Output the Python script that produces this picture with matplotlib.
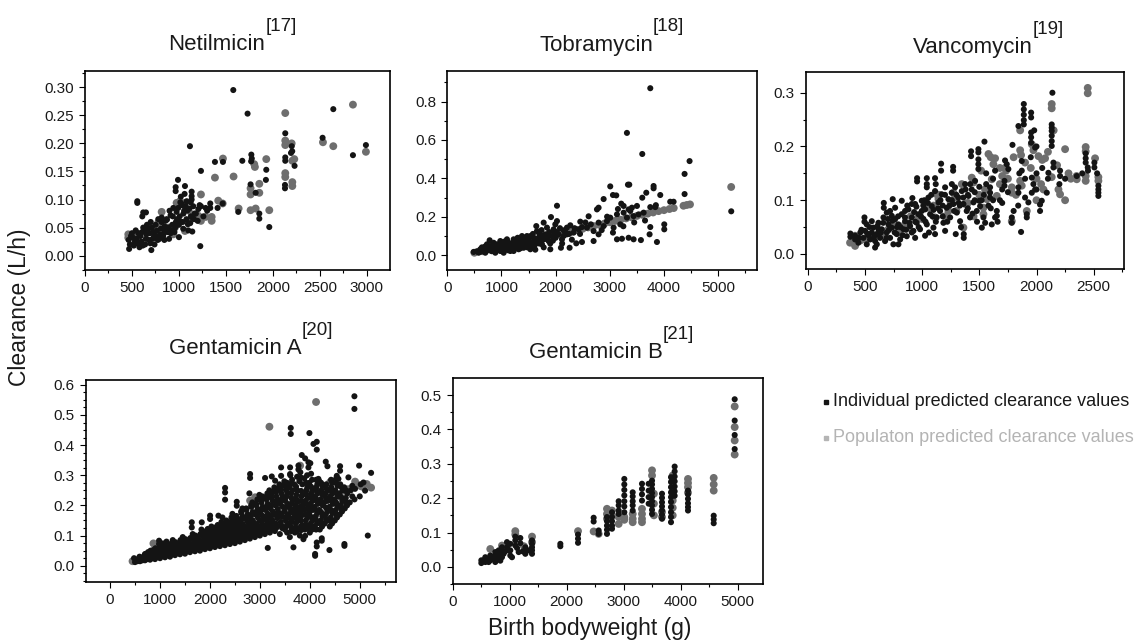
import numpy as np
import matplotlib
matplotlib.use('Agg')
import matplotlib.pyplot as plt
from matplotlib.ticker import MultipleLocator, FormatStrFormatter
from matplotlib.lines import Line2D

plt.rcParams['font.family'] = ['Liberation Sans', 'DejaVu Sans']

# (birth bodyweight g, clearance L/h)
netil_ind = [
    (1578, 0.295), (1730, 0.253), (2642, 0.261), (1117, 0.195), (2131, 0.218), (2528, 0.210),
    (2989, 0.197), (2851, 0.179), (1770, 0.180), (1775, 0.173), (1768, 0.168), (1383, 0.167),
    (1468, 0.167), (1674, 0.169), (1234, 0.151), (1929, 0.153), (1925, 0.135), (2131, 0.175),
    (2131, 0.169), (2200, 0.195), (2205, 0.186), (2192, 0.183), (2230, 0.160), (2128, 0.126),
    (2128, 0.120), (1762, 0.127), (1816, 0.112), (1855, 0.075), (1855, 0.066), (1961, 0.051),
    (1631, 0.078), (1227, 0.017), (706, 0.010), (557, 0.097), (557, 0.094), (990, 0.135),
    (965, 0.122), (965, 0.115), (1064, 0.124), (1135, 0.114), (1135, 0.106), (1135, 0.100),
    (1234, 0.088), (1284, 0.085), (1333, 0.093), (1333, 0.085), (1411, 0.085), (1465, 0.093),
    (620, 0.077), (649, 0.077), (610, 0.070),
    (470, 0.012), (478, 0.020), (465, 0.028), (490, 0.035), (520, 0.018), (530, 0.025),
    (512, 0.032), (560, 0.022), (552, 0.030), (568, 0.040), (600, 0.025), (592, 0.035),
    (608, 0.042), (615, 0.018), (640, 0.020), (648, 0.030), (635, 0.045), (655, 0.038),
    (680, 0.028), (688, 0.040), (672, 0.048), (695, 0.022), (720, 0.030), (728, 0.042),
    (712, 0.050), (735, 0.035), (760, 0.035), (768, 0.045), (752, 0.055), (775, 0.028),
    (800, 0.038), (808, 0.048), (792, 0.030), (815, 0.060), (840, 0.040), (848, 0.052),
    (832, 0.035), (855, 0.062), (845, 0.028), (880, 0.042), (888, 0.050), (872, 0.064),
    (895, 0.030), (920, 0.045), (928, 0.055), (912, 0.040), (935, 0.070), (960, 0.050),
    (968, 0.060), (952, 0.042), (975, 0.078), (1000, 0.055), (1008, 0.070), (992, 0.085),
    (1015, 0.095), (1000, 0.033), (1020, 0.060), (1040, 0.060), (1048, 0.075), (1032, 0.090),
    (1055, 0.080), (1045, 0.048), (1080, 0.065), (1088, 0.080), (1072, 0.088), (1095, 0.056),
    (1120, 0.058), (1128, 0.070), (1112, 0.084), (1125, 0.095), (1142, 0.043), (1160, 0.065),
    (1168, 0.075), (816, 0.068), (869, 0.065), (911, 0.072), (1064, 0.081), (1028, 0.092),
    (1082, 0.097), (1152, 0.088), (1142, 0.068), (1206, 0.083), (1199, 0.062),
    (500, 0.040), (540, 0.045), (580, 0.015), (620, 0.050), (660, 0.055), (700, 0.060),
    (740, 0.020), (780, 0.065), (860, 0.045), (900, 0.080), (940, 0.085), (980, 0.065),
    (1020, 0.105), (1060, 0.110), (1100, 0.045), (1180, 0.075), (1220, 0.090), (1260, 0.070),
    (1300, 0.080),
]
netil_pop = [
    (2851, 0.269), (2131, 0.254), (2131, 0.205), (2131, 0.197), (2199, 0.200), (2206, 0.169),
    (2227, 0.172), (2532, 0.202), (2642, 0.195), (2989, 0.185), (1929, 0.172), (1808, 0.158),
    (1801, 0.163), (1468, 0.173), (1383, 0.139), (1581, 0.141), (2131, 0.147), (2131, 0.140),
    (2206, 0.131), (2206, 0.124), (1762, 0.120), (1762, 0.109), (1855, 0.128), (1855, 0.112),
    (1762, 0.081), (1816, 0.084), (1961, 0.081), (1635, 0.084), (1234, 0.109), (1234, 0.062),
    (1284, 0.069), (1348, 0.069), (1348, 0.062), (1418, 0.098), (1465, 0.093), (816, 0.078),
    (461, 0.038), (461, 0.032), (975, 0.094), (1011, 0.097), (1064, 0.094), (816, 0.053),
    (886, 0.050), (709, 0.050), (638, 0.044), (567, 0.038), (940, 0.038), (957, 0.050),
    (1099, 0.062), (1135, 0.074), (1206, 0.071), (514, 0.035), (1064, 0.044), (780, 0.059),
]

tobra_ind = [
    (3747, 0.870), (3316, 0.637), (3599, 0.527), (4472, 0.490), (4380, 0.423), (4380, 0.318),
    (5241, 0.228), (3008, 0.358), (3335, 0.367), (3359, 0.367), (3808, 0.360), (3808, 0.348),
    (2025, 0.257), (2886, 0.292), (3058, 0.313), (3119, 0.311), (3599, 0.299), (3673, 0.325),
    (3931, 0.313), (4115, 0.278), (4177, 0.278), (3747, 0.250), (3839, 0.250), (3211, 0.268),
    (3255, 0.256), (2793, 0.247), (2763, 0.238), (3501, 0.256), (3408, 0.247), (3347, 0.238),
    (2609, 0.202), (1914, 0.198), (1643, 0.151), (2025, 0.177), (2271, 0.155), (2455, 0.174),
    (2486, 0.146), (1779, 0.169), (3747, 0.146), (4005, 0.160), (4005, 0.134), (3870, 0.068),
    (3734, 0.108), (3574, 0.078), (3439, 0.082), (3347, 0.090), (3224, 0.085), (3132, 0.082),
    (3058, 0.117), (2701, 0.073), (2486, 0.068), (2381, 0.061), (2258, 0.038), (2098, 0.038),
    (1902, 0.030), (1625, 0.028), (2793, 0.169), (2886, 0.151), (2947, 0.177), (3070, 0.143),
    (3193, 0.160), (3316, 0.195), (3439, 0.203), (3008, 0.195), (3132, 0.212), (3255, 0.221),
    (3378, 0.230), (3531, 0.212), (3624, 0.221), (2578, 0.143), (2701, 0.125), (2793, 0.108),
    (2332, 0.117), (2209, 0.108), (2424, 0.134),
    (487, 0.016), (579, 0.012), (672, 0.024), (764, 0.038), (782, 0.077), (856, 0.030),
    (918, 0.056), (979, 0.021), (1053, 0.070), (1102, 0.038), (1194, 0.047), (1225, 0.021),
    (1299, 0.090), (1348, 0.056), (1440, 0.082), (1471, 0.047), (1533, 0.099), (1563, 0.064),
    (1656, 0.125), (1686, 0.090), (1748, 0.056), (1809, 0.108), (1840, 0.143), (1871, 0.073),
    (1932, 0.099), (1963, 0.134), (1994, 0.160), (2055, 0.108), (2117, 0.082), (2148, 0.129),
    (2209, 0.143), (610, 0.030), (702, 0.012), (795, 0.047), (887, 0.012), (948, 0.038),
    (1010, 0.056), (1041, 0.012), (1133, 0.064), (1164, 0.021), (1256, 0.056), (1317, 0.030),
    (1379, 0.073), (1410, 0.038), (1502, 0.073), (1533, 0.030), (1594, 0.090), (1625, 0.056),
    (1717, 0.082), (1779, 0.082), (1471, 0.099), (1379, 0.099), (1225, 0.082), (1102, 0.082),
    (979, 0.073), (856, 0.064), (733, 0.056), (640, 0.040), (700, 0.045), (820, 0.020),
    (900, 0.045), (1060, 0.030), (1150, 0.045), (1280, 0.070), (1350, 0.035), (1420, 0.060),
    (1600, 0.040), (1700, 0.110), (1900, 0.060), (2000, 0.090), (2150, 0.100), (2300, 0.080),
    (550, 0.020), (620, 0.018), (680, 0.035), (750, 0.025), (830, 0.040), (880, 0.025),
    (960, 0.050), (1000, 0.035), (1080, 0.050), (1120, 0.025), (1180, 0.060), (1240, 0.040),
    (1300, 0.050), (1330, 0.080), (1380, 0.045), (1450, 0.065), (1500, 0.085), (1560, 0.050),
    (1650, 0.070), (1700, 0.060), (1760, 0.100), (1820, 0.085), (1880, 0.120), (1950, 0.075),
    (2020, 0.120), (2080, 0.140), (2180, 0.120), (2250, 0.110), (2350, 0.140), (2450, 0.110),
    (2550, 0.170), (2650, 0.160), (2850, 0.130), (2950, 0.200), (3150, 0.240), (3250, 0.150),
    (3450, 0.170), (3650, 0.180), (3850, 0.260),
    (1050, 0.045), (1200, 0.035), (1270, 0.065), (1420, 0.090), (1480, 0.040), (1580, 0.110),
    (1620, 0.080), (1740, 0.130), (1780, 0.040), (1860, 0.095), (1980, 0.115), (2120, 0.060),
]
tobra_pop = [
    (500, 0.012), (650, 0.020), (800, 0.028), (950, 0.036), (1100, 0.045), (1250, 0.054),
    (1400, 0.062), (1550, 0.071), (1700, 0.080), (1850, 0.090), (2000, 0.101), (2100, 0.108),
    (2200, 0.115), (2300, 0.123), (2400, 0.130), (2500, 0.137), (2600, 0.144), (2700, 0.151),
    (2800, 0.158), (2900, 0.164), (3000, 0.171), (3100, 0.178), (3200, 0.184), (3300, 0.191),
    (3400, 0.197), (3500, 0.204), (3600, 0.210), (3700, 0.216), (3800, 0.222), (3900, 0.229),
    (4000, 0.234), (4100, 0.240), (4180, 0.245), (4360, 0.257), (4420, 0.261), (4480, 0.264),
    (5240, 0.355),
]

vanco_ind = [
    (2139, 0.300), (1889, 0.279), (1889, 0.269), (1889, 0.259), (1889, 0.249), (1889, 0.241),
    (1953, 0.263), (1953, 0.254), (1842, 0.238), (2133, 0.241), (2133, 0.235), (2133, 0.229),
    (2133, 0.220), (2133, 0.210), (2133, 0.201), (1953, 0.226), (1953, 0.217), (1953, 0.207),
    (1988, 0.198), (1545, 0.209), (1492, 0.195), (1492, 0.189), (1428, 0.191), (1428, 0.182),
    (1790, 0.203), (1166, 0.168), (1166, 0.155), (1271, 0.162), (1271, 0.155), (1041, 0.141),
    (1041, 0.130), (1041, 0.124), (956, 0.141), (956, 0.135), (1113, 0.141), (1119, 0.130),
    (665, 0.095), (665, 0.086), (496, 0.068), (496, 0.060), (373, 0.038), (373, 0.032),
    (414, 0.034), (414, 0.027), (589, 0.012), (743, 0.102), (915, 0.104), (1294, 0.037),
    (1364, 0.037), (1364, 0.030), (1522, 0.049), (1865, 0.041), (1609, 0.055), (1638, 0.068),
    (1784, 0.068), (1784, 0.058), (1915, 0.074), (1915, 0.068), (2031, 0.092), (2031, 0.080),
    (2046, 0.099), (2090, 0.114), (1842, 0.124), (1842, 0.114), (1900, 0.105), (1929, 0.096),
    (1959, 0.142), (1973, 0.130), (1988, 0.120), (1959, 0.114), (2206, 0.155), (2206, 0.145),
    (2352, 0.145), (2430, 0.187), (2430, 0.178), (2430, 0.170), (2448, 0.161), (2506, 0.170),
    (2506, 0.161), (2541, 0.127), (2541, 0.120), (2541, 0.114), (2541, 0.108), (2148, 0.170),
    (2148, 0.161), (2104, 0.151), (1720, 0.136), (1720, 0.127), (1725, 0.174), (1740, 0.167),
    (1754, 0.158), (1871, 0.173), (1871, 0.155), (1492, 0.176), (1492, 0.167), (1492, 0.158),
    (1638, 0.155), (1594, 0.124), (1594, 0.114), (1594, 0.105), (1498, 0.099), (1507, 0.089),
    (1653, 0.080), (1653, 0.071), (1536, 0.068), (1551, 0.058),
    (443, 0.021), (487, 0.030), (516, 0.018), (545, 0.027), (560, 0.040), (589, 0.024),
    (604, 0.037), (633, 0.030), (647, 0.046), (676, 0.024), (691, 0.040), (706, 0.055),
    (720, 0.030), (735, 0.049), (749, 0.018), (764, 0.065), (778, 0.037), (793, 0.055),
    (808, 0.027), (822, 0.074), (837, 0.046), (851, 0.061), (866, 0.033), (880, 0.083),
    (895, 0.052), (910, 0.068), (924, 0.043), (939, 0.093), (953, 0.058), (968, 0.074),
    (982, 0.046), (997, 0.099), (1012, 0.065), (1026, 0.083), (1041, 0.055), (1055, 0.105),
    (1070, 0.074), (1084, 0.089), (1099, 0.049), (1113, 0.117), (1128, 0.068), (1143, 0.096),
    (1157, 0.080), (1172, 0.111), (1186, 0.058), (1201, 0.124), (1215, 0.086), (1230, 0.102),
    (1245, 0.068), (1259, 0.114), (1274, 0.093), (1288, 0.124), (1303, 0.077), (1317, 0.105),
    (1332, 0.061), (1347, 0.117), (1361, 0.093), (1376, 0.130), (1390, 0.080), (1405, 0.108),
    (1419, 0.068), (1434, 0.120), (1449, 0.096), (1463, 0.136), (1478, 0.080),
    (502, 0.043), (574, 0.049), (618, 0.058), (662, 0.068), (516, 0.055), (560, 0.061),
    (720, 0.080), (764, 0.086), (691, 0.077), (910, 0.093), (822, 0.099), (997, 0.080),
    (851, 0.080), (735, 0.071), (604, 0.018), (793, 0.018), (939, 0.030), (1026, 0.034),
    (1113, 0.037), (1201, 0.043), (460, 0.040), (530, 0.035), (620, 0.045), (700, 0.065),
    (780, 0.050), (860, 0.045), (940, 0.060), (1020, 0.100), (1090, 0.070), (1180, 0.090),
    (1260, 0.100), (1330, 0.090), (1400, 0.110), (1460, 0.100), (1540, 0.110), (1580, 0.090),
    (1680, 0.100), (1700, 0.120), (1620, 0.140), (1560, 0.150), (1840, 0.090), (2000, 0.150),
    (450, 0.030), (470, 0.045), (520, 0.038), (540, 0.050), (580, 0.032), (610, 0.052),
    (640, 0.040), (660, 0.058), (690, 0.030), (710, 0.045), (740, 0.062), (760, 0.040),
    (790, 0.070), (810, 0.050), (830, 0.035), (850, 0.068), (870, 0.090), (890, 0.058),
    (910, 0.040), (930, 0.078), (950, 0.088), (970, 0.050), (990, 0.070), (1010, 0.090),
    (1030, 0.060), (1050, 0.095), (1060, 0.040), (1080, 0.110), (1100, 0.082), (1120, 0.060),
    (1140, 0.085), (1160, 0.100), (1180, 0.070), (1200, 0.110), (1220, 0.060), (1240, 0.090),
    (1260, 0.130), (1280, 0.080), (1300, 0.110), (1320, 0.095), (1340, 0.050), (1360, 0.105),
    (1380, 0.120), (1400, 0.085), (1420, 0.130), (1440, 0.075), (1460, 0.115), (1480, 0.060),
    (1500, 0.125), (1520, 0.100), (1560, 0.130), (1600, 0.085), (1620, 0.100), (1660, 0.060),
    (1700, 0.095), (1750, 0.115), (1800, 0.080), (1850, 0.150), (1900, 0.140), (2000, 0.120),
    (2050, 0.160), (2100, 0.140), (2200, 0.130), (2250, 0.140), (2400, 0.150), (2450, 0.155),
    (2530, 0.150), (1950, 0.180), (2000, 0.200), (1980, 0.230),
]
vanco_pop = [
    (2448, 0.309), (2448, 0.299), (2133, 0.279), (2133, 0.271), (1857, 0.230), (1959, 0.204),
    (1973, 0.193), (2250, 0.195), (2017, 0.182), (2075, 0.178), (1857, 0.193), (1865, 0.184),
    (1725, 0.160), (1734, 0.155), (1580, 0.186), (1638, 0.178), (1623, 0.167), (1516, 0.155),
    (1609, 0.139), (2430, 0.199), (2430, 0.191), (2352, 0.139), (2430, 0.145), (2430, 0.136),
    (2541, 0.143), (2541, 0.136), (2512, 0.178), (2192, 0.120), (2206, 0.111), (2040, 0.130),
    (2061, 0.120), (1857, 0.136), (1871, 0.127), (2133, 0.143), (1784, 0.124), (1784, 0.114),
    (1915, 0.080), (1784, 0.061), (1653, 0.108), (1536, 0.086), (1536, 0.074), (1434, 0.142),
    (1449, 0.133), (1361, 0.049), (1274, 0.114), (1288, 0.105), (1128, 0.111), (1143, 0.102),
    (1055, 0.086), (968, 0.068), (880, 0.049), (793, 0.040), (647, 0.034), (502, 0.027),
    (370, 0.021), (414, 0.015), (414, 0.034), (1230, 0.080), (1376, 0.093), (1113, 0.068),
    (1347, 0.130), (1565, 0.102), (2150, 0.230), (2000, 0.140), (2280, 0.150), (1680, 0.130),
    (600, 0.035), (700, 0.045), (750, 0.060), (900, 0.070), (1000, 0.065), (1100, 0.090),
    (1200, 0.070), (1250, 0.095), (1400, 0.095), (1450, 0.070), (1500, 0.110), (1550, 0.120),
    (1700, 0.145), (1750, 0.140), (1800, 0.180), (1900, 0.170), (1950, 0.160), (2050, 0.175),
    (2100, 0.190), (2180, 0.165), (2250, 0.100), (2350, 0.145), (1600, 0.180), (1680, 0.160),
    (1300, 0.080), (1150, 0.110), (850, 0.055), (550, 0.030), (460, 0.025), (1820, 0.110),
    (2000, 0.100), (2300, 0.140),
]

gentA_ind = [
    (4893, 0.562), (4893, 0.520), (3618, 0.457), (3618, 0.437), (3992, 0.440), (4073, 0.404),
    (4139, 0.411), (4139, 0.385), (4987, 0.332), (5227, 0.308), (5161, 0.100), (4693, 0.072),
    (4693, 0.066), (4393, 0.052), (4106, 0.039), (4106, 0.033), (3672, 0.061), (3158, 0.059),
    (3872, 0.088), (3906, 0.099), (4139, 0.077), (4139, 0.064), (4239, 0.091), (4239, 0.083),
    (5107, 0.249), (5074, 0.276), (4540, 0.298), (4573, 0.288), (4773, 0.293), (3839, 0.367),
    (3906, 0.356), (3972, 0.343), (3972, 0.326), (3772, 0.332), (3772, 0.319), (3605, 0.326),
    (3605, 0.304), (3425, 0.326), (3425, 0.298), (3104, 0.291), (3238, 0.296), (3305, 0.282),
    (2804, 0.304), (2804, 0.291), (2303, 0.258), (2303, 0.243), (2303, 0.219), (4319, 0.345),
    (4353, 0.330), (4606, 0.330), (4606, 0.315), (4172, 0.288), (4440, 0.282), (2537, 0.212),
    (2537, 0.199), (2003, 0.166), (2003, 0.155), (1636, 0.144), (1636, 0.127), (1836, 0.144),
    (2170, 0.166), (981, 0.083), (981, 0.072), (701, 0.039),
    (500, 0.012), (520, 0.018), (480, 0.025), (600, 0.015), (620, 0.022), (590, 0.030),
    (700, 0.018), (720, 0.026), (690, 0.035), (800, 0.020), (820, 0.030), (790, 0.040),
    (810, 0.050), (900, 0.022), (920, 0.034), (890, 0.045), (910, 0.058), (1000, 0.025),
    (1020, 0.038), (990, 0.050), (1010, 0.062), (1100, 0.028), (1120, 0.040), (1090, 0.054),
    (1110, 0.068), (1130, 0.080), (1200, 0.030), (1220, 0.045), (1190, 0.058), (1210, 0.072),
    (1300, 0.035), (1320, 0.048), (1290, 0.062), (1310, 0.078), (1400, 0.038), (1420, 0.052),
    (1390, 0.066), (1410, 0.085), (1500, 0.040), (1520, 0.056), (1490, 0.070), (1510, 0.088),
    (1530, 0.060), (1600, 0.045), (1620, 0.060), (1590, 0.075), (1610, 0.092), (1700, 0.048),
    (1720, 0.064), (1690, 0.080), (1710, 0.100), (1800, 0.050), (1820, 0.068), (1790, 0.085),
    (1810, 0.105), (1830, 0.120), (1900, 0.055), (1920, 0.072), (1890, 0.090), (1910, 0.110),
    (2000, 0.058), (2020, 0.076), (1990, 0.095), (2010, 0.115), (2030, 0.130), (2100, 0.062),
    (2120, 0.080), (2090, 0.100), (2110, 0.120), (2200, 0.065), (2220, 0.085), (2190, 0.105),
    (2210, 0.125), (2230, 0.145), (2300, 0.068), (2320, 0.090), (2290, 0.110), (2310, 0.130),
    (2330, 0.150), (2400, 0.072), (2420, 0.095), (2390, 0.115), (2410, 0.135), (2430, 0.160),
    (2500, 0.075), (2520, 0.100), (2490, 0.120), (2510, 0.140), (2530, 0.165), (2600, 0.080),
    (2620, 0.105), (2590, 0.125), (2610, 0.145), (2630, 0.175), (2700, 0.085), (2720, 0.110),
    (2690, 0.130), (2710, 0.155), (2730, 0.185), (2800, 0.090), (2820, 0.115), (2790, 0.135),
    (2810, 0.160), (2830, 0.195), (2790, 0.240), (2900, 0.095), (2920, 0.120), (2890, 0.140),
    (2910, 0.170), (2930, 0.200), (3000, 0.100), (3020, 0.125), (2990, 0.150), (3010, 0.175),
    (3030, 0.210), (2990, 0.235), (3100, 0.105), (3120, 0.130), (3090, 0.155), (3110, 0.185),
    (3130, 0.220), (3200, 0.110), (3220, 0.135), (3190, 0.160), (3210, 0.190), (3230, 0.225),
    (3190, 0.250), (3300, 0.115), (3320, 0.140), (3290, 0.170), (3310, 0.200), (3330, 0.230),
    (3290, 0.260), (3400, 0.105), (3420, 0.145), (3390, 0.175), (3410, 0.205), (3430, 0.240),
    (3390, 0.270), (3500, 0.120), (3520, 0.150), (3490, 0.180), (3510, 0.215), (3530, 0.250),
    (3490, 0.280), (3600, 0.095), (3620, 0.130), (3590, 0.160), (3610, 0.190), (3630, 0.225),
    (3590, 0.260), (3610, 0.300), (3700, 0.110), (3720, 0.140), (3690, 0.170), (3710, 0.200),
    (3730, 0.235), (3690, 0.270), (3800, 0.100), (3820, 0.130), (3790, 0.165), (3810, 0.195),
    (3830, 0.230), (3790, 0.280), (3810, 0.310), (3900, 0.120), (3920, 0.150), (3890, 0.185),
    (3910, 0.215), (3930, 0.250), (3890, 0.290), (4000, 0.110), (4020, 0.140), (3990, 0.175),
    (4010, 0.205), (4030, 0.240), (3990, 0.275), (4010, 0.340), (4100, 0.130), (4120, 0.165),
    (4090, 0.195), (4110, 0.230), (4130, 0.260), (4200, 0.120), (4220, 0.150), (4190, 0.185),
    (4210, 0.220), (4230, 0.250), (4190, 0.280), (4300, 0.140), (4320, 0.170), (4290, 0.210),
    (4310, 0.240), (4330, 0.270), (4400, 0.130), (4420, 0.160), (4390, 0.195), (4410, 0.230),
    (4430, 0.260), (4500, 0.150), (4520, 0.185), (4490, 0.220), (4510, 0.250), (4530, 0.290),
    (4600, 0.170), (4620, 0.200), (4590, 0.240), (4610, 0.270), (4700, 0.190), (4720, 0.225),
    (4690, 0.260), (4800, 0.210), (4820, 0.250), (5000, 0.230), (5020, 0.270),
    (550, 0.015), (560, 0.022), (650, 0.018), (660, 0.028), (740, 0.022), (755, 0.033),
    (760, 0.045), (845, 0.025), (855, 0.038), (860, 0.052), (945, 0.030), (955, 0.044),
    (960, 0.056), (1040, 0.032), (1050, 0.047), (1060, 0.060), (1055, 0.074), (1145, 0.035),
    (1150, 0.050), (1160, 0.065), (1240, 0.038), (1250, 0.053), (1260, 0.068), (1255, 0.085),
    (1345, 0.042), (1350, 0.057), (1360, 0.072), (1440, 0.045), (1450, 0.062), (1460, 0.078),
    (1455, 0.095), (1545, 0.050), (1550, 0.066), (1560, 0.082), (1640, 0.052), (1650, 0.070),
    (1660, 0.088), (1655, 0.105), (1745, 0.057), (1750, 0.074), (1760, 0.092), (1840, 0.060),
    (1850, 0.078), (1860, 0.098), (1855, 0.115), (1945, 0.064), (1950, 0.083), (1960, 0.102),
    (1955, 0.122), (2045, 0.068), (2050, 0.088), (2060, 0.108), (2055, 0.125), (2145, 0.072),
    (2150, 0.092), (2160, 0.112), (2155, 0.135), (2245, 0.075), (2250, 0.097), (2260, 0.118),
    (2255, 0.138), (2250, 0.160), (2345, 0.080), (2350, 0.102), (2360, 0.122), (2355, 0.145),
    (2445, 0.084), (2450, 0.106), (2460, 0.128), (2455, 0.150), (2450, 0.172), (2545, 0.088),
    (2550, 0.110), (2560, 0.132), (2555, 0.155), (2645, 0.092), (2650, 0.116), (2660, 0.138),
    (2655, 0.162), (2650, 0.190), (2745, 0.098), (2750, 0.122), (2760, 0.145), (2755, 0.170),
    (2845, 0.102), (2850, 0.128), (2860, 0.150), (2855, 0.178), (2850, 0.210), (2945, 0.108),
    (2950, 0.132), (2960, 0.160), (2955, 0.188), (2950, 0.220), (3045, 0.112), (3050, 0.138),
    (3060, 0.165), (3055, 0.195), (3050, 0.230), (3145, 0.118), (3150, 0.145), (3160, 0.172),
    (3155, 0.205), (3150, 0.240), (3245, 0.125), (3250, 0.150), (3260, 0.180), (3255, 0.215),
    (3250, 0.245), (3345, 0.130), (3350, 0.158), (3360, 0.188), (3355, 0.220), (3350, 0.255),
    (3445, 0.125), (3450, 0.162), (3460, 0.195), (3455, 0.230), (3450, 0.265), (3545, 0.110),
    (3550, 0.140), (3560, 0.170), (3555, 0.205), (3550, 0.240), (3545, 0.275), (3645, 0.125),
    (3650, 0.155), (3660, 0.185), (3655, 0.215), (3650, 0.250), (3645, 0.285), (3745, 0.115),
    (3750, 0.148), (3760, 0.180), (3755, 0.212), (3750, 0.250), (3745, 0.295), (3845, 0.135),
    (3850, 0.168), (3860, 0.200), (3855, 0.235), (3850, 0.270), (3945, 0.125), (3950, 0.160),
    (3960, 0.190), (3955, 0.225), (3950, 0.260), (3945, 0.300), (4045, 0.120), (4050, 0.150),
    (4060, 0.185), (4055, 0.215), (4050, 0.250), (4045, 0.285), (4145, 0.140), (4150, 0.175),
    (4160, 0.205), (4155, 0.240), (4150, 0.270), (4245, 0.130), (4250, 0.165), (4260, 0.200),
    (4255, 0.235), (4250, 0.265), (4345, 0.150), (4350, 0.180), (4360, 0.215), (4355, 0.250),
    (4445, 0.140), (4450, 0.175), (4460, 0.205), (4455, 0.240), (4450, 0.275), (4545, 0.160),
    (4550, 0.200), (4560, 0.230), (4555, 0.265), (4645, 0.180), (4650, 0.215), (4660, 0.250),
    (4745, 0.200), (4750, 0.240), (4895, 0.220), (4905, 0.255),
    (2025, 0.070), (2025, 0.100), (2025, 0.122), (2125, 0.075), (2125, 0.096), (2125, 0.128),
    (2225, 0.080), (2225, 0.112), (2225, 0.132), (2325, 0.085), (2325, 0.106), (2325, 0.140),
    (2425, 0.090), (2425, 0.120), (2425, 0.145), (2525, 0.094), (2525, 0.118), (2525, 0.150),
    (2625, 0.098), (2625, 0.132), (2625, 0.155), (2625, 0.180), (2725, 0.104), (2725, 0.128),
    (2725, 0.162), (2725, 0.190), (2825, 0.108), (2825, 0.142), (2825, 0.168), (2825, 0.200),
    (2925, 0.114), (2925, 0.138), (2925, 0.178), (2925, 0.205), (3025, 0.118), (3025, 0.148),
    (3025, 0.185), (3025, 0.218), (3125, 0.124), (3125, 0.158), (3125, 0.195), (3125, 0.228),
    (3225, 0.130), (3225, 0.165), (3225, 0.200), (3225, 0.235), (3325, 0.125), (3325, 0.172),
    (3325, 0.210), (3325, 0.245), (3425, 0.135), (3425, 0.168), (3425, 0.218), (3425, 0.252),
    (3525, 0.130), (3525, 0.160), (3525, 0.195), (3525, 0.228), (3525, 0.262), (3625, 0.115),
    (3625, 0.145), (3625, 0.178), (3625, 0.205), (3625, 0.240), (3625, 0.272), (3725, 0.125),
    (3725, 0.160), (3725, 0.192), (3725, 0.222), (3725, 0.262), (3825, 0.118), (3825, 0.150),
    (3825, 0.182), (3825, 0.215), (3825, 0.248), (3825, 0.292), (3925, 0.135), (3925, 0.170),
    (3925, 0.205), (3925, 0.238), (3925, 0.275), (4025, 0.130), (4025, 0.162), (4025, 0.195),
    (4025, 0.228), (4025, 0.262), (4025, 0.305), (4125, 0.120), (4125, 0.152), (4125, 0.185),
    (4125, 0.218), (4125, 0.250), (4125, 0.285), (4225, 0.140), (4225, 0.178), (4225, 0.210),
    (4225, 0.242), (4225, 0.275), (4325, 0.155), (4325, 0.192), (4325, 0.225), (4325, 0.258),
    (4425, 0.145), (4425, 0.185), (4425, 0.218), (4425, 0.250), (4425, 0.285), (4525, 0.170),
    (4525, 0.210), (4525, 0.242), (4525, 0.275), (4625, 0.190), (4625, 0.228), (4625, 0.262),
    (4725, 0.210), (4725, 0.250), (4850, 0.230), (4850, 0.265),
]
gentA_pop = [
    (4125, 0.543), (3191, 0.461), (868, 0.074), (2804, 0.216), (2904, 0.227), (4907, 0.279),
    (5007, 0.265), (5141, 0.271), (5227, 0.259), (4673, 0.249), (4773, 0.254), (4406, 0.277),
    (3806, 0.332), (4573, 0.199), (4707, 0.210), (4306, 0.227), (4406, 0.238), (3839, 0.199),
    (3906, 0.188), (3572, 0.182), (3238, 0.155), (2971, 0.133), (2637, 0.122), (450, 0.015),
    (600, 0.022), (800, 0.032), (1000, 0.042), (1500, 0.065), (2000, 0.090), (2500, 0.120),
    (5050, 0.262), (4950, 0.268), (4600, 0.230), (4000, 0.210), (3450, 0.170),
]

gentB_ind = [
    (4947, 0.488), (4947, 0.426), (4947, 0.384), (4947, 0.343), (4579, 0.149), (4579, 0.138),
    (4579, 0.127), (4128, 0.222), (4128, 0.211), (4128, 0.198), (4128, 0.185), (4128, 0.174),
    (4128, 0.164), (3894, 0.292), (3894, 0.278), (3894, 0.263), (3894, 0.249), (3894, 0.234),
    (3894, 0.220), (3894, 0.207), (3830, 0.261), (3830, 0.247), (3830, 0.232), (3830, 0.217),
    (3830, 0.203), (3830, 0.189), (3830, 0.174), (3830, 0.159), (3830, 0.145), (3830, 0.130),
    (3672, 0.213), (3672, 0.201), (3672, 0.188), (3672, 0.176), (3672, 0.164), (3672, 0.152),
    (3672, 0.140), (3497, 0.251), (3497, 0.240), (3497, 0.227), (3497, 0.215), (3497, 0.203),
    (3497, 0.191), (3497, 0.179), (3497, 0.166), (3497, 0.154), (3438, 0.242), (3438, 0.222),
    (3438, 0.203), (3438, 0.184), (3321, 0.242), (3321, 0.227), (3321, 0.211), (3321, 0.193),
    (3158, 0.217), (3158, 0.205), (3158, 0.191), (3158, 0.179), (3158, 0.164), (3011, 0.256),
    (3011, 0.240), (3011, 0.224), (3011, 0.208), (3011, 0.191), (3011, 0.176), (3011, 0.159),
    (2912, 0.191), (2912, 0.179), (2912, 0.164), (2912, 0.154), (2795, 0.159), (2795, 0.145),
    (2795, 0.133), (2795, 0.120), (2795, 0.111), (2707, 0.145), (2707, 0.133), (2707, 0.120),
    (2707, 0.108), (2707, 0.096), (2561, 0.106), (2561, 0.096), (2473, 0.143), (2473, 0.132),
    (2199, 0.094), (2199, 0.082), (2199, 0.070), (1889, 0.067), (1889, 0.060), (1392, 0.077),
    (1392, 0.067), (1392, 0.057), (1392, 0.048), (1392, 0.038), (1275, 0.057), (1275, 0.048),
    (1275, 0.038), (1187, 0.084), (1187, 0.069), (1099, 0.088), (1099, 0.077), (1099, 0.062),
    (1011, 0.067), (1011, 0.048), (1011, 0.033), (953, 0.072), (953, 0.057), (865, 0.057),
    (865, 0.043), (865, 0.028), (807, 0.048), (807, 0.038), (807, 0.023), (748, 0.043),
    (748, 0.028), (748, 0.014), (660, 0.033), (660, 0.019), (573, 0.028), (573, 0.014),
    (503, 0.019), (503, 0.011), (894, 0.038), (719, 0.023), (1041, 0.028), (1158, 0.043),
    (836, 0.018), (631, 0.014), (982, 0.048), (1333, 0.048), (600, 0.022), (700, 0.030),
    (780, 0.032), (920, 0.045), (1130, 0.055), (1230, 0.045), (550, 0.020), (680, 0.025),
]
gentB_pop = [
    (4947, 0.467), (4947, 0.407), (4947, 0.368), (4947, 0.327), (4579, 0.259), (4579, 0.240),
    (4579, 0.222), (4128, 0.256), (4128, 0.244), (4128, 0.232), (4128, 0.216), (3860, 0.266),
    (3860, 0.251), (3860, 0.232), (3860, 0.213), (3860, 0.193), (3860, 0.172), (3860, 0.150),
    (3497, 0.281), (3497, 0.266), (3530, 0.213), (3530, 0.184), (3530, 0.150), (3321, 0.169),
    (3321, 0.154), (3321, 0.140), (3321, 0.130), (3158, 0.154), (3158, 0.140), (3158, 0.130),
    (3011, 0.145), (3011, 0.137), (2912, 0.145), (2912, 0.125), (2795, 0.164), (2795, 0.150),
    (2707, 0.169), (2707, 0.154), (2707, 0.140), (2473, 0.103), (2561, 0.096), (2199, 0.104),
    (1392, 0.088), (1392, 0.072), (1099, 0.104), (1099, 0.094), (953, 0.062), (865, 0.062),
    (660, 0.052), (3672, 0.160), (3672, 0.145), (1250, 0.060), (800, 0.040),
]

col_ind = '#141414'
col_pop = '#6e6e6e'

fig = plt.figure(figsize=(11.48, 6.41), dpi=100)

panels = [
    # data, axes rect, xlim, ylim, x major/minor, y major/minor, y format
    (netil_ind, netil_pop, [0.0740, 0.5788, 0.2657, 0.3105], (0, 3245), (-0.0255, 0.329), 500, 250, 0.05, 0.025, '%.2f'),
    (tobra_ind, tobra_pop, [0.3896, 0.5788, 0.2695, 0.3105], (0, 5710), (-0.078, 0.96), 1000, 500, 0.2, 0.1, '%.1f'),
    (vanco_ind, vanco_pop, [0.7021, 0.5803, 0.2770, 0.3069], (-15, 2765), (-0.028, 0.338), 500, 250, 0.1, 0.05, '%.1f'),
    (gentA_ind, gentA_pop, [0.0747, 0.0925, 0.2703, 0.3147], (-487, 5727), (-0.053, 0.616), 1000, 500, 0.1, 0.025, '%.1f'),
    (gentB_ind, gentB_pop, [0.3943, 0.0889, 0.2706, 0.3209], (0, 5449), (-0.050, 0.549), 1000, 500, 0.1, 0.05, '%.1f'),
]

for ind, pop, rect, xl, yl, xmaj, xmin, ymaj, ymin, yfmt in panels:
    ax = fig.add_axes(rect)
    p = np.array(pop)
    d = np.array(ind)
    ax.scatter(p[:, 0], p[:, 1], s=32, color=col_pop, edgecolors='none', zorder=2)
    ax.scatter(d[:, 0], d[:, 1], s=19, color=col_ind, edgecolors='none', zorder=3)
    ax.set_xlim(*xl)
    ax.set_ylim(*yl)
    ax.xaxis.set_major_locator(MultipleLocator(xmaj))
    ax.xaxis.set_minor_locator(MultipleLocator(xmin))
    ax.yaxis.set_major_locator(MultipleLocator(ymaj))
    ax.yaxis.set_minor_locator(MultipleLocator(ymin))
    ax.yaxis.set_major_formatter(FormatStrFormatter(yfmt))
    ax.xaxis.set_major_formatter(FormatStrFormatter('%d'))
    ax.tick_params(which='both', direction='out', top=False, right=False,
                   labelsize=11, labelcolor='#1a1a1a', width=0.8)
    ax.tick_params(which='major', length=4, pad=4)
    ax.tick_params(which='minor', length=2.5)
    for s in ax.spines.values():
        s.set_linewidth(1.2)

# titles with reference superscripts
titles = [
    ('Netilmicin', '[17]', 217, 45),
    ('Tobramycin', '[18]', 596, 45),
    ('Vancomycin', '[19]', 973, 48),
    ('Gentamicin A', '[20]', 235, 349),
    ('Gentamicin B', '[21]', 596, 353),
]
W, H = 1148, 641
fig.canvas.draw()
r = fig.canvas.get_renderer()
for name, ref, cx, cy in titles:
    t = fig.text(cx / W, 1 - cy / H, name, ha='center', va='center', fontsize=16, color='#1a1a1a')
    bb = t.get_window_extent(renderer=r)
    fig.text(bb.x1 / W, bb.y1 / H + 0.012, ref, ha='left', va='center', fontsize=13.5, color='#1a1a1a')

fig.text(20 / W, 1 - 307 / H, 'Clearance (L/h)', rotation=90, ha='center', va='center', fontsize=16.5, color='#1a1a1a')
fig.text(590 / W, 1 - 628 / H, 'Birth bodyweight (g)', ha='center', va='center', fontsize=16.5, color='#1a1a1a')

# legend
fig.add_artist(Line2D([826 / W], [1 - 402 / H], marker='s', markersize=2.2, color=col_ind, transform=fig.transFigure))
fig.text(833 / W, 1 - 401 / H, 'Individual predicted clearance values', ha='left', va='center', fontsize=13, color='#1a1a1a')
fig.add_artist(Line2D([826 / W], [1 - 438 / H], marker='s', markersize=2.2, color='#b4b4b4', transform=fig.transFigure))
fig.text(833 / W, 1 - 437 / H, 'Populaton predicted clearance values', ha='left', va='center', fontsize=13, color='#b4b4b4')

fig.savefig('out.png', dpi=100)
